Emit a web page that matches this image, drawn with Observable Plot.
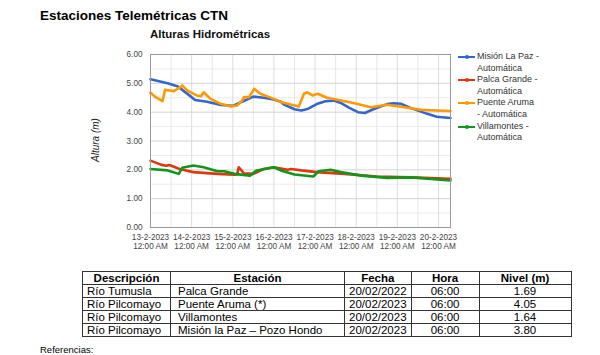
<!DOCTYPE html>
<html>
<head>
<meta charset="utf-8">
<script src="https://cdn.jsdelivr.net/npm/d3@7"></script>
<script src="https://cdn.jsdelivr.net/npm/@observablehq/plot@0.6"></script>
<style>
  html, body { margin: 0; padding: 0; background: #fff; }
  body { width: 600px; height: 355px; overflow: hidden; position: relative; font-family: "Liberation Sans", Arial, sans-serif; color: #000; }
  #title { position: absolute; left: 40px; top: 8px; font-size: 13.5px; font-weight: bold; }
  #subtitle { position: absolute; left: 150px; top: 28px; font-size: 11.5px; font-weight: bold; color: #111; }
  #ylabel { position: absolute; left: 95px; top: 140px; font-size: 10px; font-style: italic; color: #222; transform: translate(-50%, -50%) rotate(-90deg); white-space: nowrap; }
  #chart { position: absolute; left: 0; top: 0; }
  #legend { position: absolute; left: 458px; top: 51px; font-size: 9px; color: #333; }
  .li { position: relative; height: 23.2px; }
  .li .sw { position: absolute; left: 0; top: 5px; width: 17px; height: 2px; }
  .li .dot { position: absolute; left: 6.5px; top: 4px; width: 4px; height: 4px; border-radius: 2px; }
  .li .tx { position: absolute; left: 19px; top: 0; line-height: 11.5px; white-space: nowrap; }
  #tbl { position: absolute; left: 82px; top: 271px; border-collapse: collapse; font-size: 11.5px; }
  #tbl td, #tbl th { border: 1px solid #333; padding: 0 4px; height: 12px; line-height: 12px; white-space: nowrap; }
  #tbl th { font-weight: bold; text-align: center; }
  #ref { position: absolute; left: 40px; top: 344px; font-size: 9.5px; }
</style>
</head>
<body>
<div id="title">Estaciones Telemétricas CTN</div>
<div id="subtitle">Alturas Hidrométricas</div>
<div id="chart"></div>
<div id="ylabel">Altura (m)</div>
<div id="legend"></div>
<table id="tbl"></table>
<div id="ref">Referencias:</div>
<script>
// ---- Series data (hours since 13-2-2023 00:00, level in m) ----
const misionHours  = [0, 5, 10, 16, 21, 26, 33, 41, 48, 54, 60, 66, 72, 76, 78, 84, 88, 92, 97, 102, 107, 111, 116, 121, 125, 130, 138, 142, 146, 152, 161, 167, 175];
const misionLevels = [5.14, 5.07, 5.00, 4.89, 4.66, 4.42, 4.36, 4.25, 4.22, 4.38, 4.54, 4.50, 4.44, 4.36, 4.26, 4.10, 4.06, 4.12, 4.28, 4.38, 4.40, 4.32, 4.15, 4.00, 3.97, 4.10, 4.28, 4.31, 4.29, 4.14, 3.95, 3.84, 3.80];

const palcaHours  = [0, 6, 9, 11, 17, 25, 39, 49, 50.5, 51.5, 54.5, 60, 66, 72, 80, 82, 88, 97, 113, 132, 152, 175];
const palcaLevels = [2.32, 2.18, 2.14, 2.17, 2.03, 1.92, 1.86, 1.83, 1.84, 2.09, 1.88, 1.86, 2.03, 2.09, 2.00, 2.03, 1.98, 1.92, 1.86, 1.77, 1.74, 1.69];

const arumaHours  = [0, 3, 7, 8.5, 13.5, 17.5, 18.5, 21.5, 27, 29.5, 31, 35, 41, 47, 50.5, 53.5, 54.5, 57.5, 60.5, 64, 72, 76, 80, 86.5, 89.5, 91.5, 94.5, 97.5, 103, 109, 119, 128.5, 138, 148, 158, 167, 175];
const arumaLevels = [4.67, 4.52, 4.38, 4.78, 4.73, 4.87, 4.93, 4.75, 4.58, 4.55, 4.69, 4.46, 4.29, 4.20, 4.23, 4.40, 4.52, 4.52, 4.81, 4.64, 4.46, 4.35, 4.29, 4.20, 4.64, 4.69, 4.58, 4.64, 4.50, 4.43, 4.31, 4.17, 4.26, 4.17, 4.08, 4.06, 4.04];

const villaHours  = [0, 10, 16.5, 18.5, 25, 31, 39, 43, 49, 58, 62, 72, 76, 84, 95, 98, 105, 111, 123, 138, 152, 175];
const villaLevels = [2.03, 1.98, 1.86, 2.07, 2.15, 2.09, 1.95, 1.95, 1.86, 1.80, 1.98, 2.09, 1.98, 1.84, 1.77, 1.95, 2.00, 1.92, 1.80, 1.72, 1.74, 1.63];

const seriesNames  = ["Misión La Paz - Automática", "Palca Grande - Automática", "Puente Aruma - Automática", "Villamontes - Automática"];
const legendLines  = [["Misión La Paz -", "Automática"], ["Palca Grande -", "Automática"], ["Puente Aruma", "- Automática"], ["Villamontes -", "Automática"]];
const seriesColors = ["#3366cc", "#dc3912", "#ff9900", "#109618"];

// ---- Axis ticks ----
const yTicks = [0, 1, 2, 3, 4, 5, 6];
const yMinorTicks = [0.5, 1.5, 2.5, 3.5, 4.5, 5.5];
const xTickDays = ["2023-02-13", "2023-02-14", "2023-02-15", "2023-02-16", "2023-02-17", "2023-02-18", "2023-02-19", "2023-02-20"];
const xStart = "2023-02-13T00:00Z";
const xEnd = "2023-02-20T07:00Z";

// ---- Table data ----
const tableHeaders = ["Descripción", "Estación", "Fecha", "Hora", "Nivel (m)"];
const tableDescripcion = ["Río Tumusla", "Río Pilcomayo", "Río Pilcomayo", "Río Pilcomayo"];
const tableEstacion = ["Palca Grande", "Puente Aruma (*)", "Villamontes", "Misión la Paz – Pozo Hondo"];
const tableFecha = ["20/02/2022", "20/02/2023", "20/02/2023", "20/02/2023"];
const tableHora = ["06:00", "06:00", "06:00", "06:00"];
const tableNivel = ["1.69", "4.05", "1.64", "3.80"];

// ---- Build ----
const base = new Date(xStart).getTime();
const toRows = (hours, levels, name) => hours.map((h, i) => ({ t: new Date(base + h * 3600e3), v: levels[i], s: name }));
const allSeries = [
  toRows(misionHours, misionLevels, seriesNames[0]),
  toRows(palcaHours, palcaLevels, seriesNames[1]),
  toRows(arumaHours, arumaLevels, seriesNames[2]),
  toRows(villaHours, villaLevels, seriesNames[3])
];
const dayTicks = xTickDays.map(d => new Date(d + "T00:00Z"));
const halfDayTicks = dayTicks.map(d => new Date(d.getTime() + 12 * 3600e3)).filter(d => d < new Date(xEnd));
const fmtDay = d3.utcFormat("%-d-%-m-%Y");

const plot = Plot.plot({
  width: 600,
  height: 262,
  marginLeft: 150,
  marginRight: 150,
  marginTop: 54,
  marginBottom: 35,
  style: { fontFamily: '"Liberation Sans", Arial, sans-serif', fontSize: "8.2px", color: "#444", background: "transparent" },
  x: { type: "utc", domain: [new Date(xStart), new Date(xEnd)] },
  y: { domain: [0, 6] },
  marks: [
    Plot.ruleY(yMinorTicks, { stroke: "#ebebeb", strokeWidth: 1 }),
    Plot.ruleX(halfDayTicks, { stroke: "#e6e6e6", strokeWidth: 1 }),
    Plot.ruleX(dayTicks, { stroke: "#dcdcdc", strokeWidth: 1 }),
    Plot.ruleY(yTicks, { stroke: "#d4d4d4", strokeWidth: 1 }),
    Plot.axisY({ ticks: yTicks, tickFormat: d => d.toFixed(2), tickSize: 0, tickPadding: 8, label: null, fill: "#444" }),
    Plot.axisX({ ticks: dayTicks, tickFormat: d => fmtDay(d) + "\n12:00 AM", tickSize: 0, tickPadding: 5, label: null, fill: "#444", lineHeight: 1.2 }),
    ...allSeries.map((rows, i) => Plot.line(rows, { x: "t", y: "v", stroke: seriesColors[i], strokeWidth: 2.6, curve: "linear" })),
    Plot.frame({ stroke: "#9a9a9a", strokeWidth: 1 })
  ]
});
document.getElementById("chart").appendChild(plot);

// Legend
const leg = document.getElementById("legend");
seriesNames.forEach((n, i) => {
  const row = document.createElement("div");
  row.className = "li";
  row.innerHTML = `<div class="sw" style="background:${seriesColors[i]}"></div><div class="dot" style="background:${seriesColors[i]}"></div><div class="tx">${legendLines[i][0]}<br>${legendLines[i][1]}</div>`;
  leg.appendChild(row);
});

// Table
const tbl = document.getElementById("tbl");
const colWidths = [79, 165, 57, 59, 83];
let html = "<tr>" + tableHeaders.map((h, i) => `<th style="width:${colWidths[i]}px">${h}</th>`).join("") + "</tr>";
for (let i = 0; i < tableDescripcion.length; i++) {
  html += `<tr><td style="text-align:left">${tableDescripcion[i]}</td><td style="text-align:left;padding-left:7px">${tableEstacion[i]}</td><td style="text-align:center">${tableFecha[i]}</td><td style="text-align:center">${tableHora[i]}</td><td style="text-align:center">${tableNivel[i]}</td></tr>`;
}
tbl.innerHTML = html;
</script>
</body>
</html>
